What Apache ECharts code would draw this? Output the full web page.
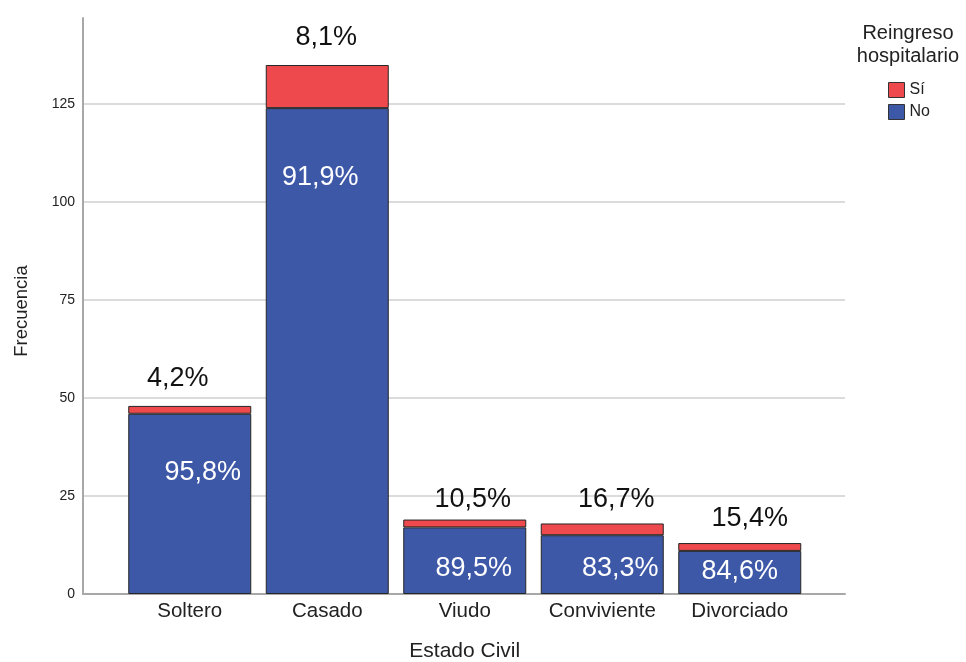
<!DOCTYPE html>
<html>
<head>
<meta charset="utf-8">
<script src="https://cdn.jsdelivr.net/npm/echarts@6/dist/echarts.min.js"></script>
<style>html,body{margin:0;padding:0;background:#fff}#c{width:966px;height:662px}</style>
</head>
<body>
<div id="c"></div>
<script>
// ---- data ----
const categories = ['Soltero', 'Casado', 'Viudo', 'Conviviente', 'Divorciado'];
const noValues = [46, 124, 17, 15, 11];
const siValues = [2, 11, 2, 3, 2];
const noPct = ['95,8%', '91,9%', '89,5%', '83,3%', '84,6%'];
const siPct = ['4,2%', '8,1%', '10,5%', '16,7%', '15,4%'];
const yTicks = [0, 25, 50, 75, 100, 125];

// ---- label placement (style, not data) ----
const noLabelShift = [[13, 59], [-7, 69], [9, 41], [18, 33], [0, 21]];   // dx, centre below bar top
const siLabelShift = [[-12, 27], [-1, 27], [8, 20], [14, 24], [10, 25]]; // dx, centre above bar top
const FS = 27;

const FONT = '"Liberation Sans", Arial, sans-serif';
const BLUE = '#3e58a8', RED = '#ee4a4d';
const YMAX = 147;

const chart = echarts.init(document.getElementById('c'), null, {renderer: 'canvas'});
const option = {
  animation: false,
  textStyle: {fontFamily: FONT},
  grid: [
    {left: 83, right: 121, top: 18, bottom: 68, outerBoundsMode: 'none', containLabel: false},
    {left: 121, right: 157.5, top: 18, bottom: 68, outerBoundsMode: 'none', containLabel: false}
  ],
  xAxis: [
    {gridIndex: 0, type: 'value', min: 0, max: 1, axisLabel: {show: false}, axisTick: {show: false},
     splitLine: {show: false}, axisLine: {show: true, lineStyle: {color: '#a8a8a8', width: 2}}},
    {gridIndex: 1, type: 'category', data: categories, axisLine: {show: false}, axisTick: {show: false},
     axisLabel: {color: '#222', fontSize: 20.5, fontFamily: FONT, margin: 7, interval: 0, hideOverlap: false},
     name: 'Estado Civil', nameLocation: 'middle', nameGap: 47,
     nameTextStyle: {color: '#222', fontSize: 21, fontFamily: FONT}}
  ],
  yAxis: [
    {gridIndex: 0, type: 'value', min: 0, max: YMAX, interval: 25,
     axisLine: {show: true, lineStyle: {color: '#a8a8a8', width: 2}}, axisTick: {show: false},
     axisLabel: {color: '#222', fontSize: 14, fontFamily: FONT, margin: 8, showMaxLabel: false,
       formatter: v => yTicks.indexOf(v) >= 0 ? String(v) : ''},
     splitLine: {show: true, showMaxLine: false, showMinLine: false, lineStyle: {color: '#cfcfcf', width: 1.5}},
     name: 'Frecuencia', nameLocation: 'middle', nameGap: 52, nameRotate: 90,
     nameTextStyle: {color: '#222', fontSize: 18.5, fontFamily: FONT, padding: [0, 10, 0, 0]}},
    {gridIndex: 1, type: 'value', min: 0, max: YMAX, show: false, splitLine: {show: false}}
  ],
  legend: {
    left: 888, top: 82, orient: 'vertical', data: ['Sí', 'No'], itemWidth: 16, itemHeight: 15, itemGap: 6,
    icon: 'rect', padding: 0, textStyle: {color: '#222', fontSize: 16, fontFamily: FONT, padding: [0, 0, 0, 0]},
    itemStyle: {borderColor: '#333', borderWidth: 1}, align: 'left'
  },
  graphic: [{
    type: 'text', x: 908, y: 22,
    style: {text: 'Reingreso\nhospitalario', fill: '#222', font: '20px ' + FONT, align: 'center', verticalAlign: 'top', lineHeight: 23}
  }],
  series: [
    {name: 'No', type: 'bar', stack: 's', xAxisIndex: 1, yAxisIndex: 1, barWidth: 123,
     itemStyle: {color: BLUE, borderColor: '#262626', borderWidth: 1},
     data: noValues.map((v, i) => ({
       value: v,
       label: {show: true, position: 'insideTop', distance: 0,
         offset: [noLabelShift[i][0], noLabelShift[i][1] - FS / 2],
         formatter: noPct[i], color: '#fff', fontSize: FS, fontFamily: FONT}
     }))},
    {name: 'Sí', type: 'bar', stack: 's', xAxisIndex: 1, yAxisIndex: 1, barWidth: 123,
     itemStyle: {color: RED, borderColor: '#262626', borderWidth: 1},
     data: siValues.map((v, i) => ({
       value: v,
       label: {show: true, position: 'top', distance: 0,
         offset: [siLabelShift[i][0], -(siLabelShift[i][1] - FS / 2)],
         formatter: siPct[i], color: '#111', fontSize: FS, fontFamily: FONT}
     }))}
  ]
};
chart.setOption(option);
</script>
</body>
</html>
